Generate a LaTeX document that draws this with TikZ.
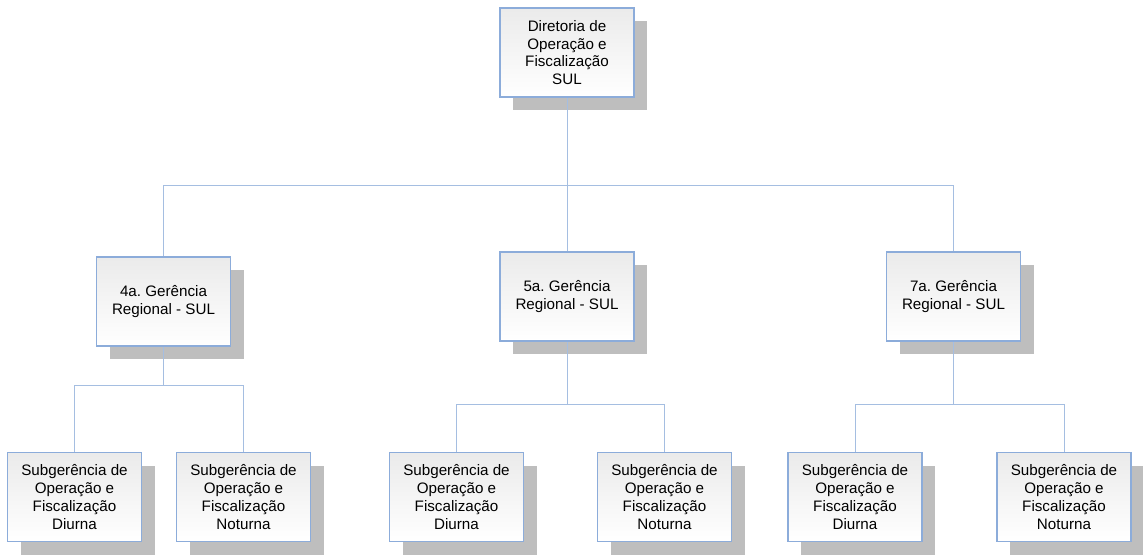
\documentclass[tikz,border=0pt]{standalone}
\usepackage{fontspec}
\setmainfont{Liberation Sans}
\usepackage{tikz}
\usetikzlibrary{shadows}
\usetikzlibrary{positioning}
\frenchspacing

\definecolor{boxline}{RGB}{140,172,218}
\definecolor{linkline}{RGB}{165,190,225}
\definecolor{shadowgray}{RGB}{190,190,190}

\tikzset{
    cargo/.style = {draw=boxline, line width=0.9pt, top color=black!8, bottom color=white,
        minimum width=3.35cm, minimum height=2.23cm, align=center, inner sep=0pt,
        font=\fontsize{10.8}{12.6}\selectfont,
        general shadow={fill=shadowgray, shadow xshift=0.33cm, shadow yshift=-0.33cm}},
    link/.style = {draw=linkline, line width=0.6pt}
}

\begin{document}
\begin{tikzpicture}[x = 0.025cm, y = -0.025cm]
        \useasboundingbox (0,0) rectangle (1143,555);

        \node [cargo] (dir) at (567, 52.5) {Diretoria de\\Operação e\\Fiscalização\\SUL};

        \node [cargo] (g4) at (163.5, 301.5) {4a. Gerência\\Regional - SUL};
        \node [cargo] (g5) at (567, 296.5) {5a. Gerência\\Regional - SUL};
        \node [cargo] (g7) at (953.5, 296.5) {7a. Gerência\\Regional - SUL};

        \node [cargo] (s4d) at (74.5, 497) {Subgerência de\\Operação e\\Fiscalização\\Diurna};
        \node [cargo] (s4n) at (243.5, 497) {Subgerência de\\Operação e\\Fiscalização\\Noturna};
        \node [cargo] (s5d) at (456.5, 497) {Subgerência de\\Operação e\\Fiscalização\\Diurna};
        \node [cargo] (s5n) at (664.5, 497) {Subgerência de\\Operação e\\Fiscalização\\Noturna};
        \node [cargo] (s7d) at (855, 497) {Subgerência de\\Operação e\\Fiscalização\\Diurna};
        \node [cargo] (s7n) at (1064, 497) {Subgerência de\\Operação e\\Fiscalização\\Noturna};

        \coordinate (busdir) at (567, 185);
        \coordinate (bus4) at (163.5, 385);
        \coordinate (bus5) at (567, 404);
        \coordinate (bus7) at (953.5, 404);

        \draw[link] (dir.south) -- (busdir) -| (g4.north);
        \draw[link] (busdir) -- (g5.north);
        \draw[link] (busdir) -| (g7.north);

        \draw[link] (g4.south) -- (bus4) -| (s4d.north);
        \draw[link] (bus4) -| (s4n.north);
        \draw[link] (g5.south) -- (bus5) -| (s5d.north);
        \draw[link] (bus5) -| (s5n.north);
        \draw[link] (g7.south) -- (bus7) -| (s7d.north);
        \draw[link] (bus7) -| (s7n.north);
\end{tikzpicture}
\end{document}
